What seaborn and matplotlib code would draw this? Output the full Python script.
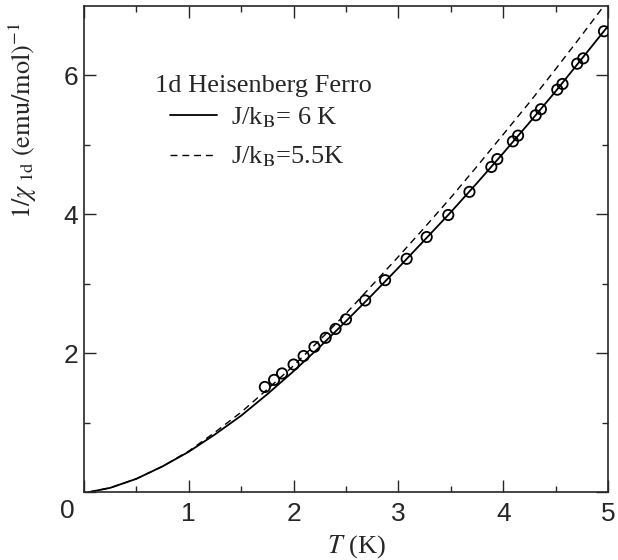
import matplotlib
matplotlib.use("Agg")
import matplotlib.pyplot as plt
from matplotlib.lines import Line2D
import pandas as pd
import seaborn as sns

# Measured inverse susceptibility of the chain, 1/chi_1d in (emu/mol)^-1
t_meas = [1.726, 1.814, 1.890, 2.000, 2.096, 2.199, 2.306, 2.400, 2.500,
          2.683, 2.873, 3.079, 3.270, 3.476, 3.678, 3.887, 3.944, 4.093,
          4.142, 4.310, 4.360, 4.516, 4.566, 4.706, 4.764, 4.962]
inv_chi_meas = [1.513, 1.615, 1.708, 1.836, 1.959, 2.092, 2.221, 2.349, 2.487,
                2.759, 3.051, 3.359, 3.672, 3.990, 4.323, 4.682, 4.795, 5.050,
                5.133, 5.426, 5.513, 5.795, 5.877, 6.169, 6.246, 6.636]

# 1d Heisenberg ferromagnet curves for two exchange constants
t_model = [0.05, 0.25, 0.5, 0.75, 1.0, 1.25, 1.5, 1.75, 2.0, 2.25, 2.5,
           2.75, 3.0, 3.25, 3.5, 3.75, 4.0, 4.25, 4.5, 4.75, 5.0]
inv_chi_j6 = [0.00, 0.06, 0.19, 0.37, 0.58, 0.83, 1.10, 1.41, 1.74, 2.09, 2.46,
              2.84, 3.23, 3.63, 4.03, 4.45, 4.88, 5.32, 5.77, 6.24, 6.71]
inv_chi_j55 = [0.00, 0.06, 0.19, 0.37, 0.59, 0.86, 1.15, 1.48, 1.82, 2.19, 2.57,
               2.98, 3.39, 3.81, 4.24, 4.69, 5.15, 5.61, 6.09, 6.58, 7.08]

legend_title = "1d Heisenberg Ferro"
legend_labels = [r"J/k$_\mathrm{B}$= 6 K", r"J/k$_\mathrm{B}$=5.5K"]
x_ticks = [0, 1, 2, 3, 4, 5]
y_ticks = [0, 2, 4, 6]

sns.set_theme(style="ticks")
plt.rcParams.update({
    "font.family": ["Liberation Sans", "DejaVu Sans"],
    "mathtext.fontset": "stix",
    "axes.linewidth": 1.2,
    "xtick.direction": "in", "ytick.direction": "in",
    "xtick.top": True, "ytick.right": True,
    "xtick.major.size": 8.5, "ytick.major.size": 8.5,
    "xtick.minor.size": 4.5, "ytick.minor.size": 4.5,
    "xtick.major.width": 1.0, "ytick.major.width": 1.0,
    "xtick.minor.width": 1.0, "ytick.minor.width": 1.0,
})
serif = ["Liberation Serif", "DejaVu Serif"]

meas = pd.DataFrame({"T": t_meas, "inv_chi": inv_chi_meas})
model = pd.DataFrame({"T": t_model, "J6": inv_chi_j6, "J55": inv_chi_j55})

fig = plt.figure(figsize=(6.18, 5.60), dpi=100)
ax = fig.add_axes([0.1359, 0.1214, 0.8479, 0.8679])

dash = (0, (5, 3.5))
sns.lineplot(data=model, x="T", y="J6", ax=ax, color="black", lw=1.3,
             estimator=None, sort=False)
sns.lineplot(data=model, x="T", y="J55", ax=ax, color="black", lw=1.0,
             linestyle=dash, estimator=None, sort=False)
sns.scatterplot(data=meas, x="T", y="inv_chi", ax=ax, marker="o", s=55,
                facecolors="none", edgecolor="black", linewidth=1.3, zorder=3)

ax.set_xlim(0, 5)
ax.set_ylim(0, 7)
ax.set_xticks(x_ticks)
ax.set_xticks([0.5, 1.5, 2.5, 3.5, 4.5], minor=True)
ax.set_yticks(y_ticks)
ax.set_yticks([1, 3, 5], minor=True)
ax.set_xticklabels([""] + [str(v) for v in x_ticks[1:]])
ax.set_yticklabels([""] + [str(v) for v in y_ticks[1:]])
ax.tick_params(axis="x", which="major", labelsize=19, pad=7)
ax.tick_params(axis="y", which="major", labelsize=19, pad=4)

# shared origin label in the lower left corner
ax.annotate("0", xy=(0, 0), xycoords="axes fraction", xytext=(-17, -7),
            textcoords="offset pixels", ha="center", va="top", fontsize=19)

ax.set_xlabel(r"$T$ (K)", fontsize=19, family=serif)
ax.xaxis.set_label_coords(0.52, -0.085)
ax.set_ylabel(r"$1/\chi_{\ \mathrm{1d}}\ (\mathrm{emu/mol})^{-1}$", fontsize=19, family=serif)
ax.yaxis.set_label_coords(-0.085, 0.765)

# legend heading and entries
ax.text(0.135, 0.835, legend_title, transform=ax.transAxes, ha="left", va="center",
        fontsize=19, family=serif)
handles = [Line2D([], [], color="black", lw=1.3),
           Line2D([], [], color="black", lw=1.0, linestyle=dash)]
ax.legend(handles, legend_labels, loc="upper left",
          bbox_to_anchor=(0.165, 0.795), frameon=False,
          prop={"family": serif, "size": 19}, handlelength=1.75,
          handletextpad=0.55, labelspacing=0.55, borderpad=0.0,
          borderaxespad=0.0)

fig.savefig("out.png", dpi=100)
